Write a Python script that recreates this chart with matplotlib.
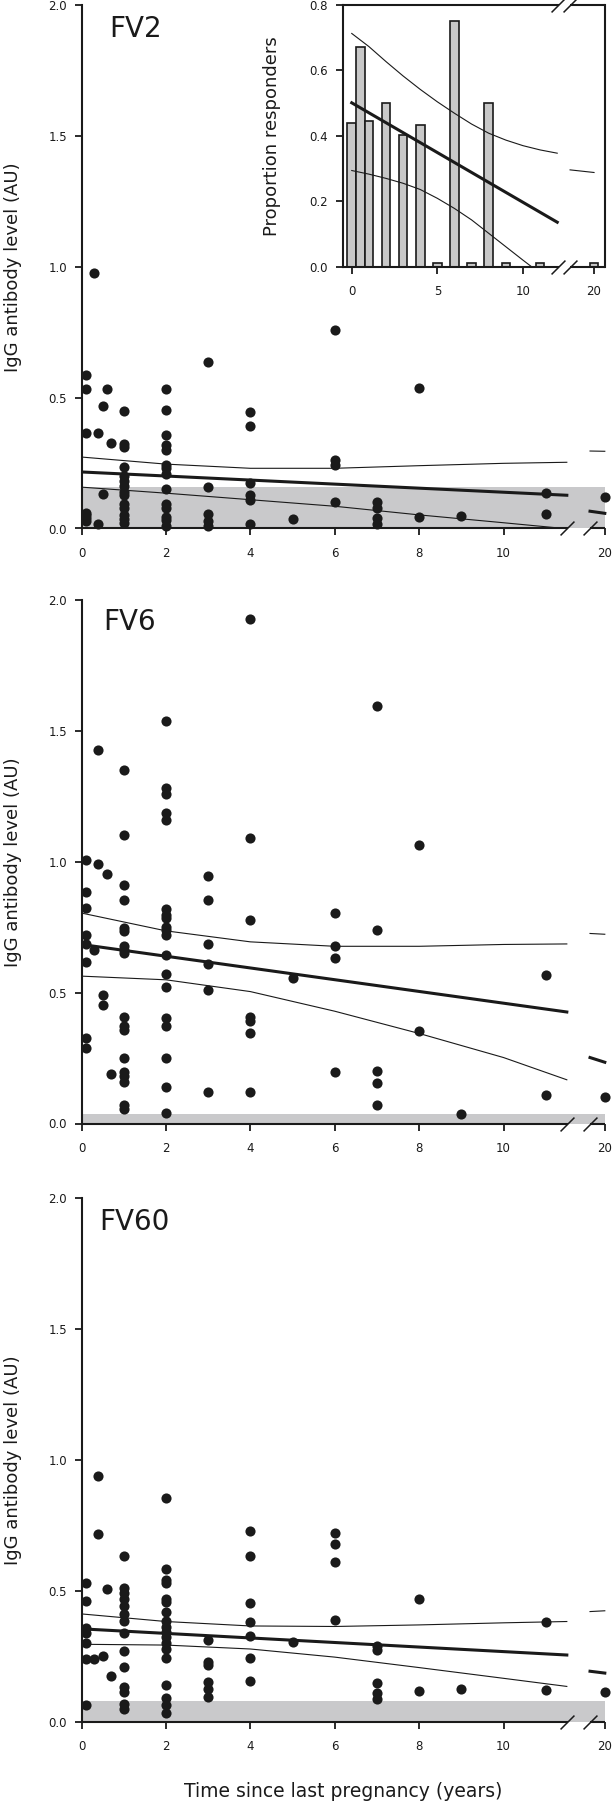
import matplotlib
matplotlib.use("Agg")
import matplotlib.pyplot as plt
import numpy as np

plt.rcParams['font.family'] = ['DejaVu Sans']

# ---------------- data ----------------
panel_names = ["FV2", "FV6", "FV60"]

# (time since last pregnancy, [IgG levels at that time])
fv2_pts = [
    (0.1, [0.585, 0.533, 0.363, 0.06, 0.05, 0.04, 0.03]),
    (0.3, [0.978]),
    (0.4, [0.363, 0.018]),
    (0.5, [0.469, 0.131]),
    (0.6, [0.534]),
    (0.7, [0.325]),
    (1, [0.448, 0.321, 0.311, 0.236, 0.202, 0.182, 0.161, 0.141, 0.127, 0.093, 0.079, 0.052, 0.038, 0.022]),
    (2, [0.533, 0.451, 0.359, 0.318, 0.3, 0.243, 0.23, 0.209, 0.15, 0.093, 0.079, 0.045, 0.031, 0.011]),
    (3, [0.637, 0.158, 0.055, 0.027, 0.011]),
    (4, [0.445, 0.391, 0.175, 0.127, 0.107, 0.018]),
    (5, [0.036]),
    (6, [0.76, 0.26, 0.243, 0.1]),
    (7, [0.1, 0.079, 0.042, 0.018]),
    (8, [0.537, 0.045]),
    (9, [0.049]),
    (11, [0.137, 0.055]),
    (20, [0.12]),
]
fv6_pts = [
    (0.1, [1.005, 0.885, 0.825, 0.722, 0.684, 0.616, 0.327, 0.287]),
    (0.3, [0.662]),
    (0.4, [1.427, 0.992]),
    (0.5, [0.49, 0.454]),
    (0.6, [0.955]),
    (0.7, [0.188]),
    (1, [1.352, 1.101, 0.91, 0.852, 0.747, 0.737, 0.677, 0.662, 0.651, 0.408, 0.372, 0.358,
         0.249, 0.198, 0.181, 0.157, 0.071, 0.054]),
    (2, [1.537, 1.281, 1.257, 1.186, 1.161, 0.818, 0.797, 0.787, 0.75, 0.74, 0.719, 0.645,
         0.573, 0.521, 0.403, 0.372, 0.249, 0.139, 0.04]),
    (3, [0.946, 0.852, 0.686, 0.609, 0.511, 0.122]),
    (4, [1.929, 1.09, 0.778, 0.408, 0.393, 0.344, 0.12]),
    (5, [0.556]),
    (6, [0.804, 0.677, 0.634, 0.198]),
    (7, [1.594, 0.74, 0.202, 0.156, 0.071]),
    (8, [1.063, 0.354]),
    (9, [0.035]),
    (11, [0.568, 0.108]),
    (20, [0.103]),
]
fv60_pts = [
    (0.1, [0.528, 0.462, 0.357, 0.338, 0.3, 0.238, 0.062]),
    (0.3, [0.238]),
    (0.4, [0.938, 0.715]),
    (0.5, [0.251]),
    (0.6, [0.508]),
    (0.7, [0.174]),
    (1, [0.631, 0.511, 0.492, 0.469, 0.442, 0.412, 0.385, 0.338, 0.269, 0.208, 0.131, 0.111, 0.065, 0.046]),
    (2, [0.854, 0.582, 0.542, 0.531, 0.469, 0.457, 0.418, 0.385, 0.362, 0.342, 0.323, 0.3,
         0.277, 0.242, 0.138, 0.088, 0.062, 0.031]),
    (3, [0.311, 0.228, 0.215, 0.151, 0.123, 0.095]),
    (4, [0.728, 0.631, 0.454, 0.382, 0.328, 0.242, 0.154]),
    (5, [0.303]),
    (6, [0.72, 0.68, 0.608, 0.388]),
    (7, [0.288, 0.274, 0.146, 0.108, 0.085]),
    (8, [0.469, 0.115]),
    (9, [0.123]),
    (11, [0.382, 0.12]),
    (20, [0.112]),
]

# cut-off (grey band) for each antigen
cutoffs = [0.158, 0.037, 0.077]

# regression line and 95% CI, first segment (0 - 11.5 years)
fit_x = [0, 11.5]
fv2_fit = [0.216, 0.127]
fv6_fit = [0.684, 0.426]
fv60_fit = [0.354, 0.254]

ci_x = [0, 2, 4, 6, 8, 10, 11.5]
fv2_ci_hi = [0.273, 0.246, 0.230, 0.230, 0.240, 0.249, 0.253]
fv2_ci_lo = [0.158, 0.135, 0.110, 0.085, 0.052, 0.022, -0.001]
fv6_ci_hi = [0.804, 0.736, 0.694, 0.677, 0.677, 0.684, 0.686]
fv6_ci_lo = [0.563, 0.549, 0.504, 0.429, 0.344, 0.252, 0.167]
fv60_ci_hi = [0.411, 0.382, 0.365, 0.363, 0.369, 0.377, 0.382]
fv60_ci_lo = [0.295, 0.292, 0.277, 0.246, 0.206, 0.165, 0.134]

# second segment (after the axis break)
tail_x = [19.65, 20]
fv2_tail_fit = [0.066, 0.058]
fv2_tail_hi = [0.296, 0.295]
fv6_tail_fit = [0.252, 0.234]
fv6_tail_hi = [0.726, 0.723]
fv60_tail_fit = [0.192, 0.185]
fv60_tail_hi = [0.420, 0.423]

# inset: proportion of FV2 responders
inset_x = [0, 0.5, 1, 2, 3, 4, 5, 6, 7, 8, 9, 11, 20]
inset_h = [0.44, 0.673, 0.445, 0.50, 0.403, 0.433, 0.012, 0.752, 0.012, 0.50, 0.012, 0.012, 0.012]
inset_fit_x = [0, 12]
inset_fit = [0.501, 0.136]
inset_ci_x = [0, 1, 2, 3, 4, 5, 6, 7, 8, 9, 10, 11, 12]
inset_ci_hi = [0.713, 0.673, 0.627, 0.583, 0.542, 0.504, 0.469, 0.436, 0.408, 0.387, 0.370, 0.357, 0.347]
inset_lo_x = [0, 1, 2, 3, 4, 5, 6, 7, 8, 9, 10, 10.5]
inset_ci_lo = [0.294, 0.283, 0.270, 0.255, 0.236, 0.209, 0.178, 0.143, 0.102, 0.061, 0.020, 0.0]
inset_tail_x = [18.6, 20]
inset_tail_hi = [0.296, 0.288]

panel_pts = [fv2_pts, fv6_pts, fv60_pts]
panel_fit = [fv2_fit, fv6_fit, fv60_fit]
panel_hi = [fv2_ci_hi, fv6_ci_hi, fv60_ci_hi]
panel_lo = [fv2_ci_lo, fv6_ci_lo, fv60_ci_lo]
panel_tail_fit = [fv2_tail_fit, fv6_tail_fit, fv60_tail_fit]
panel_tail_hi = [fv2_tail_hi, fv6_tail_hi, fv60_tail_hi]

ink = '#1a1a1a'
grey = '#c9c9cb'


def broken_scale(lo, hi, gap):
    # x <= lo shown as is, lo..hi squeezed into 'gap', x >= hi shown as is again
    def fwd(x):
        x = np.asarray(x, float)
        return np.where(x <= lo, x,
                        np.where(x >= hi, lo + gap + (x - hi),
                                 lo + (x - lo) / (hi - lo) * gap))

    def inv(p):
        p = np.asarray(p, float)
        return np.where(p <= lo, p,
                        np.where(p >= lo + gap, hi + (p - lo - gap),
                                 lo + (p - lo) / gap * (hi - lo)))
    return fwd, inv


def break_marks(ax, xs, ys, lw=1.1):
    for xb in xs:
        for yb in ys:
            ax.plot([xb], [yb], marker=[(-1, -1), (1, 1)], ms=10, mew=lw, color=ink,
                    transform=ax.get_xaxis_transform(), clip_on=False, zorder=5)


W, H = 612, 1801
fig = plt.figure(figsize=(W / 100, H / 100), dpi=100)

tops = [5, 600, 1198]
ax_h = 523.5
left_px, width_px = 81.5, 523.3
name_pos = [(0.053, 0.981), (0.041, 0.985), (0.033, 0.981)]

main_lo, main_hi, main_gap = 11.5, 19.65, 0.55

for i in range(3):
    ax = fig.add_axes([left_px / W, 1 - (tops[i] + ax_h) / H, width_px / W, ax_h / H])
    ax.set_xscale('function', functions=broken_scale(main_lo, main_hi, main_gap))
    ax.set_xlim(0, 20)
    ax.set_ylim(0, 2.0)

    ax.axhspan(0, cutoffs[i], color=grey, lw=0, zorder=1)

    for xv, ys in panel_pts[i]:
        ax.plot([xv] * len(ys), ys, 'o', ms=7.3, color=ink, mec='none', clip_on=False, zorder=4)

    ax.plot(fit_x, panel_fit[i], color=ink, lw=2.2, zorder=3)
    ax.plot(ci_x, panel_hi[i], color=ink, lw=0.8, zorder=3)
    ax.plot(ci_x, panel_lo[i], color=ink, lw=0.8, zorder=3)
    ax.plot(tail_x, panel_tail_fit[i], color=ink, lw=2.2, zorder=3, clip_on=False)
    ax.plot(tail_x, panel_tail_hi[i], color=ink, lw=0.8, zorder=3, clip_on=False)

    for s in ['top', 'right']:
        ax.spines[s].set_visible(False)
    for s in ['left', 'bottom']:
        ax.spines[s].set_linewidth(1.5)
        ax.spines[s].set_color(ink)
    ax.spines['bottom'].set_bounds(0, main_lo)
    ax.plot([main_hi, 20], [0, 0], color=ink, lw=1.5, transform=ax.get_xaxis_transform(),
            clip_on=False, solid_capstyle='butt')
    break_marks(ax, [main_lo, main_hi], [0])

    ax.set_xticks([0, 2, 4, 6, 8, 10, 20])
    ax.set_xticklabels(['0', '2', '4', '6', '8', '10', '20'])
    ax.set_yticks([0, 0.5, 1.0, 1.5, 2.0])
    ax.set_yticklabels(['0.0', '0.5', '1.0', '1.5', '2.0'])
    ax.tick_params(axis='both', direction='out', length=5, width=1.3, color=ink,
                   labelsize=8.5, labelcolor=ink)
    ax.tick_params(axis='x', pad=8.5)
    ax.tick_params(axis='y', pad=5.5)

    ax.set_ylabel('IgG antibody level (AU)', fontsize=13, color=ink)
    ax.yaxis.set_label_coords(-0.131, 0.5)
    ax.yaxis.label.set_verticalalignment('center')

    ax.text(name_pos[i][0], name_pos[i][1], panel_names[i], transform=ax.transAxes,
            fontsize=20, color=ink, ha='left', va='top')

    if i == 0:
        ax1 = ax

# x label under the last panel
fig.text((left_px + width_px / 2) / W, 1 - 1797 / H, 'Time since last pregnancy (years)',
         fontsize=13.5, color=ink, ha='center', va='baseline')

# ---------------- inset ----------------
in_left, in_right, in_top, in_bot = 342.5, 605, 5, 266.7
axi = fig.add_axes([in_left / W, 1 - in_bot / H, (in_right - in_left) / W, (in_bot - in_top) / H])
in_lo, in_hi, in_gap = 12.04, 18.6, 0.71
axi.set_xscale('function', functions=broken_scale(in_lo, in_hi, in_gap))
axi.set_xlim(-0.54, 20.64)
axi.set_ylim(0, 0.8)

axi.bar(inset_x, inset_h, width=0.5, color='#c8c8c8', edgecolor=ink, linewidth=1.2, zorder=2)
axi.plot(inset_fit_x, inset_fit, color=ink, lw=2.2, zorder=3)
axi.plot(inset_ci_x, inset_ci_hi, color=ink, lw=0.8, zorder=3)
axi.plot(inset_lo_x, inset_ci_lo, color=ink, lw=0.8, zorder=3)
axi.plot(inset_tail_x, inset_tail_hi, color=ink, lw=0.8, zorder=3)

for s in ['left', 'right', 'top', 'bottom']:
    axi.spines[s].set_linewidth(1.5)
    axi.spines[s].set_color(ink)
axi.spines['bottom'].set_bounds(-0.54, in_lo)
axi.spines['top'].set_bounds(-0.54, in_lo)
for yb in [0, 1]:
    axi.plot([in_hi, 20.64], [yb, yb], color=ink, lw=1.5, transform=axi.get_xaxis_transform(),
             clip_on=False, solid_capstyle='butt')
break_marks(axi, [in_lo, in_hi], [0, 1])

axi.set_xticks([0, 5, 10, 20])
axi.set_xticklabels(['0', '5', '10', '20'])
axi.set_yticks([0, 0.2, 0.4, 0.6, 0.8])
axi.set_yticklabels(['0.0', '0.2', '0.4', '0.6', '0.8'])
axi.tick_params(axis='both', direction='out', length=5, width=1.3, color=ink,
                labelsize=8.5, labelcolor=ink)
axi.tick_params(axis='x', pad=8.5)
axi.tick_params(axis='y', pad=5.5)
axi.set_ylabel('Proportion responders', fontsize=13, color=ink)
axi.yaxis.set_label_coords(-0.27, 0.5)
axi.yaxis.label.set_verticalalignment('center')

fig.savefig('out.png', dpi=100)
